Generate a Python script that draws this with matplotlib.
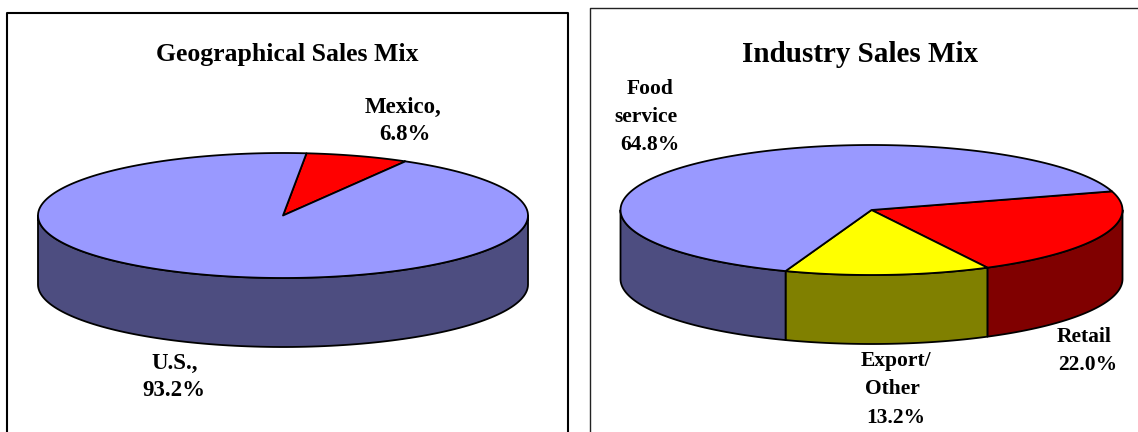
import numpy as np
import matplotlib
matplotlib.use('Agg')
import matplotlib.pyplot as plt

plt.rcParams['font.family'] = ['Liberation Serif', 'DejaVu Serif']

# Data ================================================================
geo_names = ['Mexico', 'U.S.']
geo_shares = [6.8, 93.2]
geo_top = ['#FF0000', '#9999FF']
geo_side = ['#800000', '#4D4D80']

ind_names = ['Retail', 'Export/Other', 'Food service']
ind_shares = [22.0, 13.2, 64.8]
ind_top = ['#FF0000', '#FFFF00', '#9999FF']
ind_side = ['#800000', '#808000', '#4D4D80']

geo_title = 'Geographical Sales Mix'
ind_title = 'Industry Sales Mix'
geo_labels = [['Mexico,', '6.8%'], ['U.S.,', '93.2%']]
ind_labels = [['Retail', '22.0%'], ['Export/', 'Other', '13.2%'], ['Food', 'service', '64.8%']]

# Label placement, one (x, y) per line, in pixels
geo_label_pos = [[(403, 107), (405, 135)], [(175, 363), (174, 390)]]
ind_label_pos = [[(1084, 337), (1088, 365)],
                 [(896, 361), (892, 389), (896, 418)],
                 [(650, 89), (646, 117), (650, 145)]]

fig = plt.figure(figsize=(11.38, 4.32), dpi=100)
ax = fig.add_axes([0, 0, 1, 1])
ax.set_xlim(0, 1138)
ax.set_ylim(432, 0)
ax.axis('off')


def rim(cx, cy, rx, ry, t):
    return cx + rx*np.cos(t), cy - ry*np.sin(t)


def draw_pie(shares, tops, sides, start, cx, cy, rx, ry, depth):
    # side walls first, clockwise from the start angle
    a1 = start
    for share, side in zip(shares, sides):
        a2 = a1 - share*3.6
        lo, hi = max(a2, -180), min(a1, 0)
        if lo < hi:
            t = np.radians(np.linspace(hi, lo, 120))
            x, y = rim(cx, cy, rx, ry, t)
            ax.fill(np.r_[x, x[::-1]], np.r_[y, y[::-1] + depth], facecolor=side,
                    edgecolor='black', lw=1.3, joinstyle='round')
        a1 = a2
    # then the top face
    a1 = start
    for share, top in zip(shares, tops):
        a2 = a1 - share*3.6
        t = np.radians(np.linspace(a1, a2, 240))
        x, y = rim(cx, cy, rx, ry, t)
        ax.fill(np.r_[cx, x], np.r_[cy, y], facecolor=top,
                edgecolor='black', lw=1.3, joinstyle='round')
        a1 = a2


def draw_labels(labels, positions, size):
    for lines, spots in zip(labels, positions):
        for line, (x, y) in zip(lines, spots):
            ax.text(x, y, line, ha='center', va='center', fontsize=size, fontweight='bold')


# Frames, both run off the bottom of the picture
ax.plot([7.5, 7.5, 568.5, 568.5], [432, 12.5, 12.5, 432], color='black', lw=1.5)
ax.plot([590.5, 590.5, 1138], [432, 8, 8], color='#222222', lw=1.0)

draw_pie(geo_shares, geo_top, geo_side, 84.5, 283, 215.5, 245, 62.5, 69)
draw_pie(ind_shares, ind_top, ind_side, 16.7, 871.5, 210, 251, 65, 69)

ax.text(287.5, 55, geo_title, ha='center', va='center', fontsize=18.5, fontweight='bold')
ax.text(860, 55, ind_title, ha='center', va='center', fontsize=21, fontweight='bold')
draw_labels(geo_labels, geo_label_pos, 16.5)
draw_labels(ind_labels, ind_label_pos, 15.5)

fig.savefig('out.png', dpi=100)
